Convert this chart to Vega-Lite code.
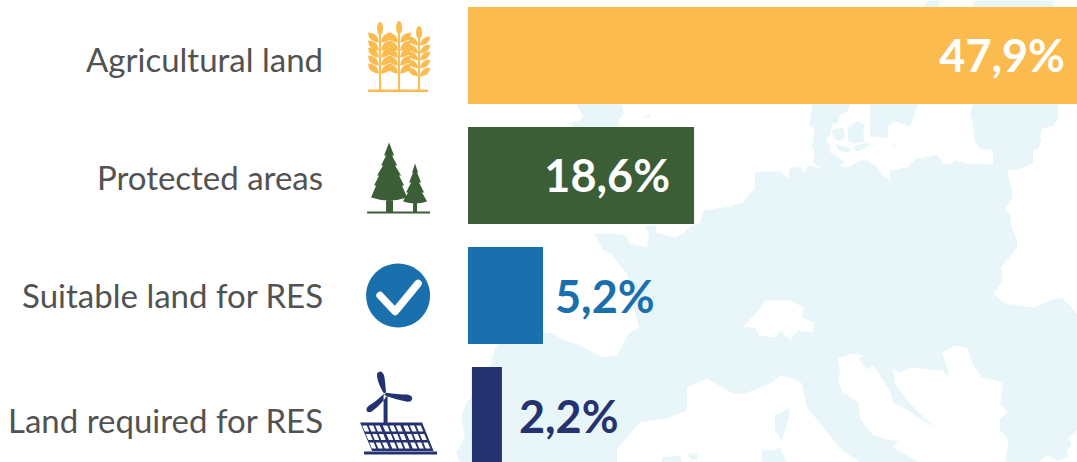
{"$schema":"https://vega.github.io/schema/vega-lite/v6.json","width":1077,"height":462,"padding":0,"autosize":{"type":"none"},"background":"white","config":{"view":{"stroke":null}},"data":{"values":[{"name":"Agricultural land","label":"47,9%","start":0,"end":47.9},{"name":"Protected areas","label":"18,6%","start":0,"end":17.78},{"name":"Suitable land for RES","label":"5,2%","start":0,"end":5.9},{"name":"Land required for RES","label":"2,2%","start":0.31,"end":2.67}]},"encoding":{"x":{"field":"start","type":"quantitative","axis":null,"scale":{"domain":[-36.81,47.9],"range":[0,1077],"nice":false,"zero":false}},"y":{"field":"name","type":"nominal","axis":null,"sort":null,"scale":{"domain":["Agricultural land","Protected areas","Suitable land for RES","Land required for RES"],"range":[7,464],"paddingInner":0.1917,"paddingOuter":0}}},"layer":[
{"transform":[{"filter":"datum.name==='Suitable land for RES'"}],"mark":{"type":"point","filled":true,"opacity":1,"size":4,"fill":"#e8f6fa","stroke":null,"shape":"M-8 167L-12 157L-3 142L-6 125L-6 117L0 105L22 72L27 53L32 45L75 37L84 38L97 45L112 50L125 57L135 62L149 60L157 45L161 38L171 32L167 18L163 -5L159 -22L151 -32L143 -42L135 -45L130 -55L126 -62L143 -62L159 -60L161 -52L179 -48L181 -62L177 -70L189 -70L187 -63L208 -58L216 -63L226 -71L232 -73L236 -85L261 -89L275 -93L287 -108L287 -123L297 -124L312 -124L320 -117L322 -128L334 -128L335 -121L340 -130L355 -126L345 -133L347 -142L344 -150L347 -167L341 -170L344 -188L345 -195L382 -195L382 -191L380 -185L372 -180L370 -173L364 -171L362 -160L358 -156L362 -150L362 -143L372 -137L377 -133L372 -130L380 -128L392 -135L400 -135L404 -132L410 -127L414 -120L420 -117L422 -112L422 -125L439 -128L447 -136L469 -141L475 -132L482 -131L487 -135L499 -132L525 -131L525 -145L512 -147L507 -153L504 -175L502 -182L505 -191L505 -295L585 -295L590 -191L590 -178L586 -170L574 -167L572 -158L574 -155L570 -147L565 -145L565 -132L552 -127L539 -125L544 -105L544 -97L537 -87L542 -80L544 -67L549 -55L549 -48L533 -28L535 -15L525 -2L537 8L565 12L582 5L594 2L609 18L609 135L600 142L604 150L599 155L600 162L590 165L579 160L570 167L537 167L540 150L539 142L532 135L532 123L540 117L532 108L534 95L535 88L528 85L514 82L504 68L500 53L487 50L474 57L479 72L481 80L474 75L442 72L432 77L425 73L427 88L442 108L467 133L455 125L437 113L425 107L422 95L410 77L405 70L401 74L395 70L391 63L395 60L385 58L370 63L372 75L370 85L375 97L390 107L392 123L405 140L424 145L430 145L425 152L452 167L392 167L372 153L362 140L339 112L334 88L325 83L312 80L304 87L277 98L265 98L239 83L219 92L219 115L199 123L172 127L149 153L149 167ZM287 32L291 40L307 42L313 35L322 45L330 35L344 37L346 27L334 22L336 12L322 5L297 5L293 12L275 32ZM322 112L320 125L314 145L307 135L307 120ZM312 152L319 167L294 167L294 155L304 155ZM194 162L212 160L214 167L194 167ZM220 158L229 158L229 165L222 163ZM106 -195L115 -180L112 -175L100 -172L106 -168L151 -168L151 -175L156 -183L153 -195ZM174 -178L181 -182L182 -178ZM402 -191L402 -159L414 -158L420 -158L420 -169L427 -174L442 -169L450 -191L472 -295L460 -295ZM425 -152L429 -148L425 -149ZM364 -166L375 -168L377 -157L372 -154L365 -157ZM380 -168L389 -174L397 -171L395 -159L397 -154L387 -152L380 -154ZM385 -149L400 -153L402 -150L392 -145L387 -144ZM368 -152L375 -149L384 -147L380 -143L370 -145Z"},"encoding":{"x":{"datum":0,"type":"quantitative"}}},
{"mark":{"type":"bar"},"encoding":{"x2":{"field":"end"},"color":{"field":"name","type":"nominal","legend":null,"scale":{"domain":["Agricultural land","Protected areas","Suitable land for RES","Land required for RES"],"range":["#fcbb4f","#3b5e36","#1a70ac","#24336f"]}}}},
{"transform":[{"filter":"datum.name==='Agricultural land'"}],"mark":{"type":"point","filled":true,"opacity":1,"size":4,"fill":"#fcbb4f","stroke":null,"shape":"M-30 34h60v2.5h-60zM-19 -25h2V34h-2zM0 -25h2V34h-2zM20 -20h2V34h-2zM-18 -33.5a3 6.5 0 1 1 0 13a3 6.5 0 1 1 0 -13zM1 -34.5a3 6.5 0 1 1 0 13a3 6.5 0 1 1 0 -13zM21 -29.5a3 6.5 0 1 1 0 13a3 6.5 0 1 1 0 -13zM-19 -13q-11 -1 -11 -10q10 0 11 10zM-19 -5q-11 -1 -11 -10q10 0 11 10zM-19 2q-11 -1 -11 -10q10 0 11 10zM-19 10q-11 -1 -11 -10q10 0 11 10zM-19 18q-11 -1 -11 -10q10 0 11 10zM-17 -13q1 -10 11 -10q0 9 -11 10zM-17 -5q1 -10 11 -10q0 9 -11 10zM-17 2q1 -10 11 -10q0 9 -11 10zM-17 10q1 -10 11 -10q0 9 -11 10zM-17 18q1 -10 11 -10q0 9 -11 10zM0 -13q-11 -1 -11 -10q10 0 11 10zM0 -5q-11 -1 -11 -10q10 0 11 10zM0 2q-11 -1 -11 -10q10 0 11 10zM0 10q-11 -1 -11 -10q10 0 11 10zM0 18q-11 -1 -11 -10q10 0 11 10zM2 -13q1 -10 11 -10q0 9 -11 10zM2 -5q1 -10 11 -10q0 9 -11 10zM2 2q1 -10 11 -10q0 9 -11 10zM2 10q1 -10 11 -10q0 9 -11 10zM2 18q1 -10 11 -10q0 9 -11 10zM20 -10q-10 -1 -10 -9q9 0 10 9zM20 -2q-10 -1 -10 -9q9 0 10 9zM20 5q-10 -1 -10 -9q9 0 10 9zM20 13q-10 -1 -10 -9q9 0 10 9zM20 21q-10 -1 -10 -9q9 0 10 9zM22 -10q1 -9 10 -9q0 8 -10 9zM22 -2q1 -9 10 -9q0 8 -10 9zM22 5q1 -9 10 -9q0 8 -10 9zM22 13q1 -9 10 -9q0 8 -10 9zM22 21q1 -9 10 -9q0 8 -10 9z"},"encoding":{"x":{"datum":-5.5,"type":"quantitative"}}},
{"transform":[{"filter":"datum.name==='Protected areas'"}],"mark":{"type":"point","filled":true,"opacity":1,"size":4,"fill":"#3b5e36","stroke":null,"shape":"M-9 -33L-4 -20L-6 -20L-1 -10L-3 -10L3 0L1 0L6 10L4 10L9 22Q-9 28 -27 22L-22 10L-24 10L-19 0L-21 0L-15 -10L-17 -10L-12 -20L-14 -20ZM-12 24h7v12h-7zM17 -12L20 -3L19 -3L23 7L21 7L26 17L24 17L29 26Q17 30 5 26L10 17L8 17L13 7L11 7L15 -3L14 -3ZM15 28h4v8h-4zM-31 36h63v2h-63z"},"encoding":{"x":{"datum":-5.5,"type":"quantitative"}}},
{"transform":[{"filter":"datum.name==='Suitable land for RES'"}],"mark":{"type":"point","filled":true,"opacity":1,"size":4,"fill":"#1a70ac","stroke":null,"shape":"M0 -32a32 32 0 1 1 0 64a32 32 0 1 1 0 -64z"},"encoding":{"x":{"datum":-5.5,"type":"quantitative"}}},
{"transform":[{"filter":"datum.name==='Suitable land for RES'"}],"mark":{"type":"point","filled":false,"opacity":1,"size":4,"stroke":"#ffffff","strokeWidth":7.5,"strokeCap":"round","strokeJoin":"round","shape":"M-18 0L-3 16L20 -12"},"encoding":{"x":{"datum":-5.5,"type":"quantitative"}}},
{"transform":[{"filter":"datum.name==='Land required for RES'"}],"mark":{"type":"point","filled":true,"opacity":1,"size":4,"fill":"#24336f","stroke":null,"shape":"M-12 -22Q-13 -36 -14 -40Q-17 -47 -21 -42Q-22 -36 -15 -23ZM-13 -23Q0 -21 9 -21Q15 -20 14 -16Q13 -13 8 -14Q-3 -16 -13 -20ZM-14 -22Q-22 -14 -29 -10Q-33 -7 -31 -4Q-28 -2 -25 -5Q-16 -12 -11 -20ZM-14.5 -21h4V7h-4zM-38 7H24L35.5 35.5H-26ZM-34 36H39V39H-34Z"},"encoding":{"x":{"datum":-5.5,"type":"quantitative"}}},
{"transform":[{"filter":"datum.name==='Land required for RES'"}],"mark":{"type":"point","filled":true,"opacity":1,"size":4,"fill":"#ffffff","stroke":null,"shape":"M-35.8 10h4.5l2.5 6h-4.5zM-29.3 10h4.5l2.5 6h-4.5zM-22.8 10h4.5l2.5 6h-4.5zM-15.3 10h4.5l2.5 6h-4.5zM-8.8 10h4.5l2.5 6h-4.5zM-2.3 10h4.5l2.5 6h-4.5zM5.2 10h4.5l2.5 6h-4.5zM11.7 10h4.5l2.5 6h-4.5zM18.2 10h4.5l2.5 6h-4.5zM-32.3 18.5h4.5l2.5 6h-4.5zM-25.8 18.5h4.5l2.5 6h-4.5zM-19.3 18.5h4.5l2.5 6h-4.5zM-11.8 18.5h4.5l2.5 6h-4.5zM-5.3 18.5h4.5l2.5 6h-4.5zM1.2 18.5h4.5l2.5 6h-4.5zM8.7 18.5h4.5l2.5 6h-4.5zM15.2 18.5h4.5l2.5 6h-4.5zM21.7 18.5h4.5l2.5 6h-4.5zM-28.8 27h4.5l2.5 6h-4.5zM-22.3 27h4.5l2.5 6h-4.5zM-15.8 27h4.5l2.5 6h-4.5zM-8.3 27h4.5l2.5 6h-4.5zM-1.8 27h4.5l2.5 6h-4.5zM4.7 27h4.5l2.5 6h-4.5zM12.2 27h4.5l2.5 6h-4.5zM18.7 27h4.5l2.5 6h-4.5zM25.2 27h4.5l2.5 6h-4.5z"},"encoding":{"x":{"datum":-5.5,"type":"quantitative"}}},
{"transform":[{"filter":"datum.name==='Agricultural land'"}],"mark":{"type":"text","font":"Lato","fontSize":33,"align":"right","baseline":"middle","fill":"#525252","dy":6.5},"encoding":{"x":{"datum":-11.4,"type":"quantitative"},"text":{"field":"name"}}},
{"transform":[{"filter":"datum.name==='Protected areas'"}],"mark":{"type":"text","font":"Lato","fontSize":33,"align":"right","baseline":"middle","fill":"#525252","dy":4.5},"encoding":{"x":{"datum":-11.4,"type":"quantitative"},"text":{"field":"name"}}},
{"transform":[{"filter":"datum.name==='Suitable land for RES'"}],"mark":{"type":"text","font":"Lato","fontSize":33,"align":"right","baseline":"middle","fill":"#525252","dy":2.5},"encoding":{"x":{"datum":-11.4,"type":"quantitative"},"text":{"field":"name"}}},
{"transform":[{"filter":"datum.name==='Land required for RES'"}],"mark":{"type":"text","font":"Lato","fontSize":33,"align":"right","baseline":"middle","fill":"#525252","dy":7.5},"encoding":{"x":{"datum":-11.4,"type":"quantitative"},"text":{"field":"name"}}},
{"transform":[{"filter":"datum.name==='Agricultural land'"}],"mark":{"type":"text","font":"Lato","fontWeight":"bold","fontSize":45,"align":"right","baseline":"middle","fill":"#ffffff","dx":-12,"dy":3},"encoding":{"x":{"field":"end","type":"quantitative"},"text":{"field":"label"}}},
{"transform":[{"filter":"datum.name==='Protected areas'"}],"mark":{"type":"text","font":"Lato","fontWeight":"bold","fontSize":45,"align":"right","baseline":"middle","fill":"#ffffff","dx":-24,"dy":3},"encoding":{"x":{"field":"end","type":"quantitative"},"text":{"field":"label"}}},
{"transform":[{"filter":"datum.name==='Suitable land for RES'"}],"mark":{"type":"text","font":"Lato","fontWeight":"bold","fontSize":45,"align":"left","baseline":"middle","fill":"#1a70ac","dx":12,"dy":3},"encoding":{"x":{"field":"end","type":"quantitative"},"text":{"field":"label"}}},
{"transform":[{"filter":"datum.name==='Land required for RES'"}],"mark":{"type":"text","font":"Lato","fontWeight":"bold","fontSize":45,"align":"left","baseline":"middle","fill":"#24336f","dx":17,"dy":3},"encoding":{"x":{"field":"end","type":"quantitative"},"text":{"field":"label"}}}
]}
